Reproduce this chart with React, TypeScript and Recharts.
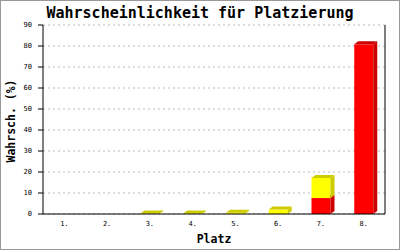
import React from "react";
import { BarChart, Bar, XAxis, YAxis, CartesianGrid } from "recharts";

const categories = ["1.", "2.", "3.", "4.", "5.", "6.", "7.", "8."];
const redValues = [0, 0, 0, 0, 0, 0, 7.6, 80.8];
const yellowValues = [0, 0, 0.2, 0.2, 0.6, 2.1, 9.6, 0];
const yTicks = [0, 10, 20, 30, 40, 50, 60, 70, 80, 90];

const data = categories.map((c, i) => ({
  platz: c,
  red: redValues[i],
  yellow: yellowValues[i],
}));

const MONO = "'DejaVu Sans Mono', 'Liberation Mono', monospace";

const make3D = (front: string, dark: string) => (props: any) => {
  const { x, y, width, height } = props;
  if (!height || height <= 0 || !width) return <g />;
  const d = 4;
  const dv = 3;
  const w = width;
  const h = height;
  return (
    <g>
      <rect x={x} y={y} width={w} height={h} fill={front} />
      <polygon
        points={`${x + w},${y} ${x + w + d},${y - dv} ${x + w + d},${y + h - dv} ${x + w},${y + h}`}
        fill={dark}
      />
      <polygon
        points={`${x},${y} ${x + d},${y - dv} ${x + w + d},${y - dv} ${x + w},${y}`}
        fill={dark}
      />
    </g>
  );
};

const RedShape = make3D("#ff0000", "#cc0000");
const YellowShape = make3D("#ffff00", "#cccc00");

export default function App() {
  return (
    <div
      style={{
        position: "fixed",
        left: 0,
        top: 0,
        width: 400,
        height: 250,
        boxSizing: "border-box",
        border: "1px solid #999999",
        background: "#ffffff",
      }}
    >
      <BarChart
        width={398}
        height={248}
        data={data}
        margin={{ top: 24, right: 13, bottom: 0, left: 0 }}
        barSize={19}
      >
        <CartesianGrid
          horizontal={true}
          vertical={false}
          stroke="#bbbbbb"
          strokeDasharray="2 3"
        />
        <XAxis
          dataKey="platz"
          height={35}
          axisLine={{ stroke: "#000000" }}
          tickLine={false}
          tickSize={6}
          tickMargin={1}
          tick={{ fill: "#000000", fontSize: 7, fontFamily: MONO }}
        />
        <YAxis
          width={42}
          domain={[0, 90]}
          ticks={yTicks}
          interval={0}
          axisLine={{ stroke: "#000000" }}
          tickLine={{ stroke: "#000000" }}
          tickSize={5}
          tickMargin={6}
          tick={{ fill: "#000000", fontSize: 7, fontFamily: MONO }}
        />
        <YAxis
          yAxisId="r"
          orientation="right"
          width={1}
          domain={[0, 90]}
          tick={false}
          tickLine={false}
          axisLine={{ stroke: "#000000" }}
        />
        <Bar dataKey="red" stackId="s" fill="#ff0000" shape={RedShape} isAnimationActive={false} />
        <Bar dataKey="yellow" stackId="s" fill="#ffff00" shape={YellowShape} isAnimationActive={false} />
      </BarChart>
      <svg
        width={400}
        height={250}
        style={{ position: "absolute", left: -1, top: -1, pointerEvents: "none" }}
      >
        <text
          x={200}
          y={18}
          textAnchor="middle"
          fontFamily={MONO}
          fontWeight="bold"
          fontSize={15}
          fill="#000000"
        >
          Wahrscheinlichkeit für Platzierung
        </text>
        <text
          x={214}
          y={243}
          textAnchor="middle"
          fontFamily={MONO}
          fontWeight="bold"
          fontSize={11.5}
          fill="#000000"
        >
          Platz
        </text>
        <text
          x={15}
          y={121}
          textAnchor="middle"
          transform="rotate(-90 15 121)"
          fontFamily={MONO}
          fontWeight="bold"
          fontSize={11.5}
          fill="#000000"
        >
          Wahrsch. (%)
        </text>
      </svg>
    </div>
  );
}
